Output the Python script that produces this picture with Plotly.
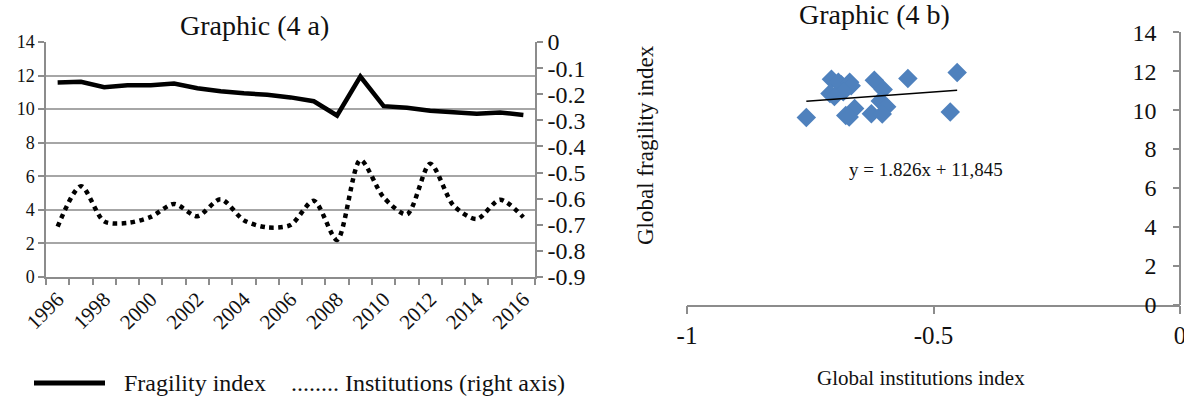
import plotly.graph_objects as go

# ---------------- data ----------------
years = list(range(1996, 2017))
fragility = [11.59, 11.63, 11.31, 11.43, 11.43, 11.53, 11.25, 11.06, 10.94, 10.86, 10.70,
             10.47, 9.62, 11.94, 10.18, 10.08, 9.90, 9.82, 9.72, 9.80, 9.65]
institutions = [-0.707, -0.552, -0.687, -0.693, -0.670, -0.620, -0.667, -0.602, -0.683, -0.710, -0.701,
                -0.608, -0.758, -0.452, -0.595, -0.660, -0.466, -0.626, -0.678, -0.604, -0.671]
year_ticks = list(range(1996, 2017, 2))
left_ticks = list(range(0, 15, 2))
right_ticks = [0, -0.1, -0.2, -0.3, -0.4, -0.5, -0.6, -0.7, -0.8, -0.9]
right_labels = ["0", "-0.1", "-0.2", "-0.3", "-0.4", "-0.5", "-0.6", "-0.7", "-0.8", "-0.9"]
scatter_xticks = [-1, -0.5, 0]
scatter_xlabels = ["-1", "-0.5", "0"]
trend_slope = 1.826
trend_intercept = 11.845
trend_text = "y = 1.826x + 11,845"

W, H = 1184, 398
FONT = "Liberation Serif, Times New Roman, serif"
GRID = "#A6A6A6"
AXIS = "#8C8C8C"
BLUE = "#4F81BD"


def px(x):
    return x / W


def py(y):
    return 1 - y / H


fig = go.Figure()

# ---- Graphic 4a ----
fig.add_trace(go.Scatter(x=years, y=fragility, mode="lines", name="Fragility index",
                         line=dict(color="black", width=4.5), xaxis="x", yaxis="y"))
fig.add_trace(go.Scatter(x=years, y=institutions, mode="lines", name="Institutions (right axis)",
                         line=dict(color="black", width=4.5, dash="dot", shape="spline", smoothing=0.8),
                         xaxis="x", yaxis="y2"))

# ---- Graphic 4b ----
fig.add_trace(go.Scatter(x=institutions, y=fragility, mode="markers",
                         marker=dict(symbol="diamond", size=15, color=BLUE),
                         xaxis="x2", yaxis="y3"))
tx = [min(institutions), max(institutions)]
ty = [trend_slope * v + trend_intercept for v in tx]
fig.add_trace(go.Scatter(x=tx, y=ty, mode="lines", line=dict(color="black", width=1.5),
                         xaxis="x2", yaxis="y3"))

fig.update_layout(
    width=W, height=H, margin=dict(l=0, r=0, t=0, b=0, autoexpand=False),
    paper_bgcolor="white", plot_bgcolor="white", showlegend=False,
    font=dict(family=FONT, color="#111111"),
    xaxis=dict(domain=[px(46), px(535)], anchor="y", range=[1995.5, 2016.5], automargin=False,
               tickmode="array", tickvals=year_ticks, ticktext=[str(y) for y in year_ticks],
               ticks="", tickangle=-45, tickfont=dict(size=21, family=FONT),
               showline=True, linecolor=AXIS, linewidth=1.5, showgrid=False, zeroline=False,
               minor=dict(ticks="outside", tick0=1995.5, dtick=1, ticklen=6, tickcolor=AXIS, tickwidth=1.5,
                          showgrid=False)),
    yaxis=dict(domain=[py(277), py(42)], anchor="x", range=[0, 14], tickmode="array", tickvals=left_ticks,
               ticks="outside", ticklen=6, tickcolor=AXIS, tickwidth=1.5, automargin=False,
               tickfont=dict(size=18, family=FONT),
               showline=True, linecolor=AXIS, linewidth=1.5, showgrid=True, gridcolor=GRID, gridwidth=1.5,
               zeroline=False),
    yaxis2=dict(overlaying="y", anchor="x", side="right", range=[-0.9, 0], tickmode="array",
                tickvals=right_ticks, ticktext=right_labels, ticks="outside", ticklen=6, tickcolor=AXIS,
                tickwidth=1.5, tickfont=dict(size=24, family=FONT), automargin=False,
                showline=True, linecolor=AXIS, linewidth=1.5, showgrid=False, zeroline=False),
    xaxis2=dict(domain=[px(687), px(1180)], anchor="y3", range=[-1, 0], tickmode="array",
                tickvals=scatter_xticks, ticktext=scatter_xlabels, ticks="outside", ticklen=8,
                tickcolor=AXIS, tickwidth=1.5, tickfont=dict(size=25, family=FONT), automargin=False,
                ticklabeloverflow="allow",
                showline=True, linecolor=AXIS, linewidth=1.5, showgrid=False, zeroline=False),
    yaxis3=dict(domain=[py(304.7), py(32.3)], anchor="free", position=px(1180), side="left",
                range=[0, 14], tickmode="array", tickvals=left_ticks, ticks="outside", ticklen=6,
                tickcolor=AXIS, tickwidth=1.5, ticklabelstandoff=12, tickfont=dict(size=24, family=FONT),
                automargin=False,
                showline=True, linecolor=AXIS, linewidth=1.5, showgrid=False, zeroline=False),
)

shapes = [
    # gap in the top gridline behind the title
    dict(type="rect", xref="paper", yref="paper", x0=px(154), x1=px(428), y0=py(48), y1=py(36),
         fillcolor="white", line=dict(width=0), layer="above"),
    # legend line sample
    dict(type="line", xref="paper", yref="paper", x0=px(34), x1=px(105), y0=py(383), y1=py(383),
         line=dict(color="black", width=5)),
]
fig.update_layout(shapes=shapes)

ann = [
    dict(text="Graphic (4 a)", x=px(254), y=py(26), font=dict(size=28)),
    dict(text="Graphic (4 b)", x=px(874), y=py(15), font=dict(size=28)),
    dict(text="Global fragility index", x=px(645), y=py(145), textangle=-90, font=dict(size=23)),
    dict(text="Global institutions index", x=px(921), y=py(378), font=dict(size=21)),
    dict(text=trend_text, x=px(926), y=py(170), font=dict(size=19)),
    dict(text="Fragility index", x=px(122), y=py(383), xanchor="left", font=dict(size=24)),
    dict(text="........ Institutions (right axis)", x=px(289), y=py(383), xanchor="left", font=dict(size=24)),
]
for a in ann:
    a.setdefault("xanchor", "center")
    a.update(xref="paper", yref="paper", yanchor="middle", showarrow=False)
    a["font"] = dict(family=FONT, color="#111111", **a["font"])
fig.update_layout(annotations=ann)

fig.write_html("out.html", config={"displayModeBar": False},
               post_script="document.body.style.margin='0';document.body.style.overflow='hidden';")
